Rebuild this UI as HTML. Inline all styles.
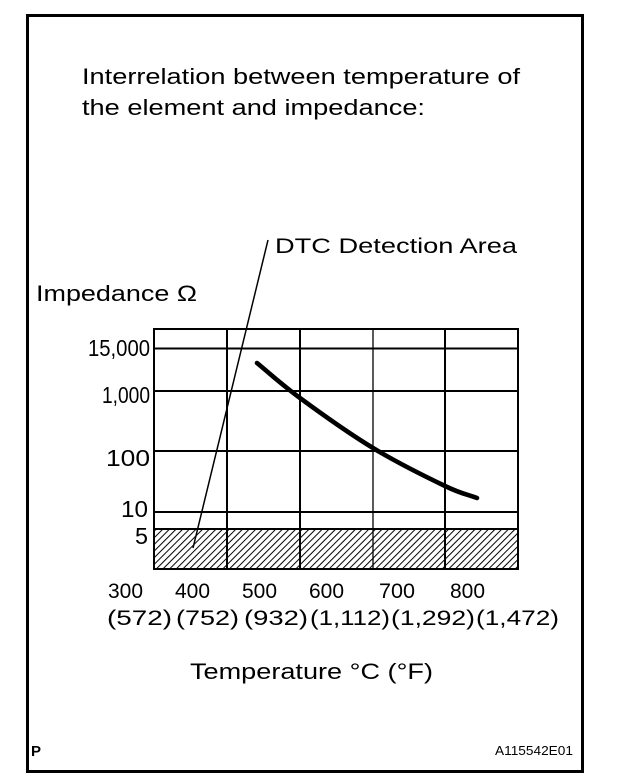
<!DOCTYPE html>
<html>
<head>
<meta charset="utf-8">
<style>
  html, body { margin: 0; padding: 0; background: #fff; }
  svg { display: block; }
  text { font-family: "Liberation Sans", Arial, sans-serif; fill: #000; }
</style>
</head>
<body>
<svg width="640" height="784" viewBox="0 0 640 784" xmlns="http://www.w3.org/2000/svg">
  <defs>
    <pattern id="hatch" patternUnits="userSpaceOnUse" width="4.7" height="10" patternTransform="rotate(45)">
      <line x1="0.5" y1="0" x2="0.5" y2="10" stroke="#000" stroke-width="1"/>
    </pattern>
  </defs>
  <rect x="0" y="0" width="640" height="784" fill="#fff"/>

  <!-- outer frame -->
  <rect x="27.5" y="15.5" width="555" height="756" fill="none" stroke="#000" stroke-width="3"/>

  <!-- title -->
  <text x="82" y="84" font-size="22.5" textLength="438" lengthAdjust="spacingAndGlyphs">Interrelation between temperature of</text>
  <text x="82" y="115" font-size="22.5" textLength="343" lengthAdjust="spacingAndGlyphs">the element and impedance:</text>

  <!-- DTC label -->
  <text x="275" y="253" font-size="21.5" textLength="242" lengthAdjust="spacingAndGlyphs">DTC Detection Area</text>

  <!-- Y axis title -->
  <text x="36" y="301" font-size="22.5" textLength="161" lengthAdjust="spacingAndGlyphs">Impedance Ω</text>

  <!-- hatched area -->
  <rect x="154" y="529" width="364" height="40" fill="url(#hatch)"/>

  <!-- grid -->
  <g stroke="#000" fill="none">
    <line x1="227" y1="329" x2="227" y2="569" stroke-width="2"/>
    <line x1="300" y1="329" x2="300" y2="569" stroke-width="2"/>
    <line x1="373" y1="329" x2="373" y2="569" stroke-width="1.3"/>
    <line x1="445" y1="329" x2="445" y2="569" stroke-width="2"/>
    <line x1="154" y1="348.5" x2="518" y2="348.5" stroke-width="2"/>
    <line x1="154" y1="391" x2="518" y2="391" stroke-width="2"/>
    <line x1="154" y1="451" x2="518" y2="451" stroke-width="2"/>
    <line x1="154" y1="512" x2="518" y2="512" stroke-width="2"/>
    <line x1="154" y1="529" x2="518" y2="529" stroke-width="2"/>
    <rect x="154" y="329" width="364" height="240" stroke-width="2"/>
  </g>

  <!-- DTC pointer line -->
  <line x1="268" y1="240" x2="193" y2="548" stroke="#000" stroke-width="1.5"/>

  <!-- impedance curve -->
  <path d="M257,363 C271.3,374.7 280.7,383.8 300,398 C319.3,412.2 348.8,433.3 373,448 C397.2,462.7 427.7,477.7 445,486 C462.3,494.3 466.3,494 477,498"
        fill="none" stroke="#000" stroke-width="4.6" stroke-linecap="round"/>

  <!-- Y tick labels -->
  <g font-size="23">
    <text x="88" y="356" textLength="62" lengthAdjust="spacingAndGlyphs">15,000</text>
    <text x="102" y="403" textLength="48" lengthAdjust="spacingAndGlyphs">1,000</text>
    <text x="106" y="466" textLength="44" lengthAdjust="spacingAndGlyphs">100</text>
    <text x="121" y="517" textLength="27" lengthAdjust="spacingAndGlyphs">10</text>
    <text x="135" y="544" textLength="13" lengthAdjust="spacingAndGlyphs">5</text>
  </g>

  <!-- X tick labels row 1 -->
  <g font-size="21.5">
    <text x="108" y="598" textLength="35" lengthAdjust="spacingAndGlyphs">300</text>
    <text x="175" y="598" textLength="35" lengthAdjust="spacingAndGlyphs">400</text>
    <text x="242" y="598" textLength="35" lengthAdjust="spacingAndGlyphs">500</text>
    <text x="309" y="598" textLength="35" lengthAdjust="spacingAndGlyphs">600</text>
    <text x="379" y="598" textLength="36" lengthAdjust="spacingAndGlyphs">700</text>
    <text x="450" y="598" textLength="35" lengthAdjust="spacingAndGlyphs">800</text>
  </g>

  <!-- X tick labels row 2 -->
  <g font-size="21.5">
    <text x="107" y="625" textLength="65" lengthAdjust="spacingAndGlyphs">(572)</text>
    <text x="176" y="625" textLength="63" lengthAdjust="spacingAndGlyphs">(752)</text>
    <text x="244" y="625" textLength="64" lengthAdjust="spacingAndGlyphs">(932)</text>
    <text x="310" y="625" textLength="80" lengthAdjust="spacingAndGlyphs">(1,112)</text>
    <text x="391" y="625" textLength="84" lengthAdjust="spacingAndGlyphs">(1,292)</text>
    <text x="476" y="625" textLength="83" lengthAdjust="spacingAndGlyphs">(1,472)</text>
  </g>

  <!-- X axis title -->
  <text x="190" y="679" font-size="22.5" textLength="243" lengthAdjust="spacingAndGlyphs">Temperature °C (°F)</text>

  <!-- footer -->
  <text x="31" y="756" font-size="15" font-weight="bold">P</text>
  <text x="495" y="755" font-size="12.5" textLength="78" lengthAdjust="spacingAndGlyphs">A115542E01</text>
</svg>
</body>
</html>
